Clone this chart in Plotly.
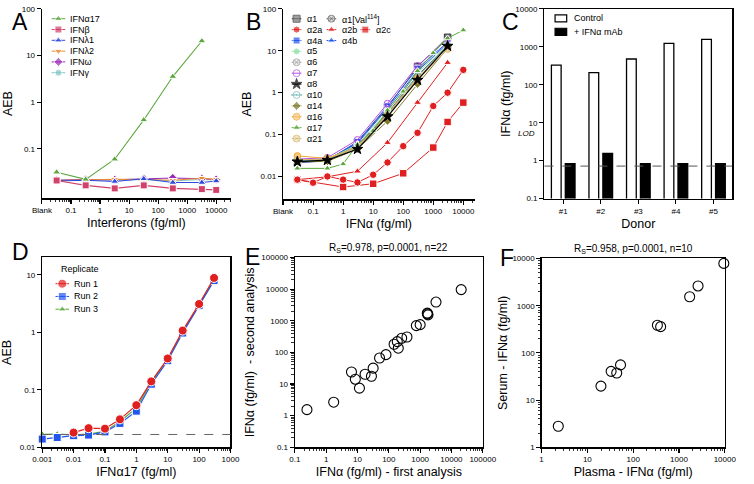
import plotly.graph_objects as go

W, H = 754, 484
FONT = "Liberation Sans, Arial, sans-serif"
TICK = 8
TITLE = 12.5
LEG = 9

# ---------------- data ----------------
# Panel A
A_X = [0.032, 0.32, 3.2, 32, 320, 3200, 10000]
A_X17 = [0.032, 0.32, 3.2, 32, 320, 3200]
A_IFNA17 = [0.0316, 0.0222, 0.060, 0.417, 3.55, 20.5]
A_IFNB = [0.021, 0.0165, 0.0142, 0.0165, 0.0142, 0.0137, 0.0132]
A_IFNL1 = [0.0205, 0.0212, 0.0200, 0.0228, 0.0190, 0.0190, 0.0205]
A_IFNL2 = [0.0210, 0.0218, 0.0222, 0.0220, 0.0212, 0.0235, 0.0222]
A_IFNW = [0.0212, 0.0220, 0.0218, 0.0230, 0.0238, 0.0228, 0.0220]
A_IFNG = [0.0215, 0.0220, 0.0212, 0.0222, 0.0205, 0.0220, 0.0218]
A_LABELS = ["IFNα17", "IFNβ", "IFNλ1", "IFNλ2", "IFNω", "IFNγ"]
A_XTICKVALS = [0.01, 0.1, 1, 10, 100, 1000, 10000]
A_XTICKTEXT = ["Blank", "0.1", "1", "10", "100", "1000", "10000"]
A_YTICKVALS = [0.1, 1, 10, 100]
A_YTICKTEXT = ["0.1", "1", "10", "100"]

# Panel B
B_X6 = [0.03, 0.3, 3, 30, 300, 3000]
B_A1 = [0.022, 0.025, 0.065, 0.45, 4.2, 21]
B_A1V = [0.024, 0.026, 0.055, 0.32, 2.6, 13]
B_A4A = [0.021, 0.024, 0.068, 0.48, 3.8, 16]
B_A4B = [0.023, 0.025, 0.062, 0.42, 3.3, 15]
B_A5 = [0.025, 0.026, 0.057, 0.36, 3.0, 14]
B_A6 = [0.024, 0.025, 0.052, 0.30, 2.5, 12]
B_A7 = [0.026, 0.028, 0.075, 0.55, 4.4, 19]
B_A8 = [0.0225, 0.0245, 0.045, 0.27, 2.0, 13]
B_A10 = [0.024, 0.025, 0.050, 0.30, 2.4, 13]
B_A14 = [0.022, 0.023, 0.045, 0.21, 1.6, 11.5]
B_A16 = [0.031, 0.027, 0.050, 0.30, 2.2, 12]
B_A21 = [0.025, 0.026, 0.050, 0.28, 2.0, 11]
B_X17 = [0.03, 0.3, 1, 3, 10, 30, 100, 300, 1000, 3000, 10000]
B_A17 = [0.0156, 0.0156, 0.0198, 0.058, 0.124, 0.38, 1.07, 3.3, 8.85, 20, 31]
B_X2A = [0.03, 0.1, 0.3, 1, 3, 10, 30, 100, 300, 1000, 3000, 10000]
B_A2A = [0.0084, 0.0071, 0.0100, 0.0084, 0.0072, 0.0110, 0.0216, 0.053, 0.11, 0.48, 1.0, 3.5]
B_X2B = [0.03, 0.3, 3, 30, 300, 3000]
B_A2B = [0.0084, 0.0098, 0.0133, 0.064, 0.58, 5.2]
B_X2C = [0.03, 1, 10, 100, 1000, 3000, 10000]
B_A2C = [0.0084, 0.0056, 0.0067, 0.0119, 0.049, 0.20, 0.58]
B_XTICKVALS = [0.01, 0.1, 1, 10, 100, 1000, 10000]
B_XTICKTEXT = ["Blank", "0.1", "1", "10", "100", "1000", "10000"]
B_YTICKVALS = [0.01, 0.1, 1, 10, 100]
B_YTICKTEXT = ["0.01", "0.1", "1", "10", "100"]

# Panel C
C_DONORS = ["#1", "#2", "#3", "#4", "#5"]
C_CONTROL = [329, 208, 479, 1242, 1577]
C_MAB = [0.83, 1.55, 0.83, 0.83, 0.83]
C_LOD = 0.72
C_YTICKVALS = [0.1, 1, 10, 100, 1000, 10000]
C_YTICKTEXT = ["0.1", "1", "10", "100", "1000", "10000"]

# Panel D
D_X = [0.001, 0.003, 0.01, 0.03, 0.1, 0.3, 1, 3, 10, 30, 100, 300]
D_RUN1_X = [0.01, 0.03, 0.1, 0.3, 1, 3, 10, 30, 100, 300]
D_RUN1 = [0.018, 0.0215, 0.0211, 0.0306, 0.054, 0.14, 0.35, 1.07, 3.1, 8.8]
D_RUN2 = [0.0139, 0.0148, 0.0159, 0.0163, 0.0185, 0.026, 0.0425, 0.125, 0.32, 0.97, 2.9, 7.9]
D_RUN3 = [0.0168, 0.0170, 0.0165, 0.0170, 0.0190, 0.028, 0.048, 0.135, 0.34, 1.02, 3.0, 8.3]
D_CUTOFF = 0.0167
D_XTICKVALS = [0.001, 0.01, 0.1, 1, 10, 100, 1000]
D_XTICKTEXT = ["0.001", "0.01", "0.1", "1", "10", "100", "1000"]
D_YTICKVALS = [0.01, 0.1, 1, 10]
D_YTICKTEXT = ["0.01", "0.1", "1", "10"]

# Panel E
E_FIRST = [0.242, 1.73, 6.4, 8.5, 11.5, 17.4, 27.8, 31.5, 50.5, 81, 147, 186, 200,
           257, 379, 755, 1000, 1690, 1780, 1720, 3210, 20460]
E_SECOND = [1.55, 2.67, 24, 14.2, 7.4, 20.4, 17.6, 31.8, 66.5, 85, 181, 219, 136,
            280, 307, 703, 755, 1742, 1540, 1650, 3900, 9660]
E_TICKVALS = [0.1, 1, 10, 100, 1000, 10000, 100000]
E_TICKTEXT = ["0.1", "1", "10", "100", "1000", "10000", "100000"]
E_TITLE = "R<sub>S</sub>=0.978, p=0.0001, n=22"

# Panel F
F_PLASMA = [2.32, 19.8, 33, 43.8, 53, 338, 398, 1710, 2606, 9520]
F_SERUM = [2.79, 19.8, 40.6, 37.5, 55.7, 385, 360, 1545, 2618, 7870]
F_TICKVALS = [1, 10, 100, 1000, 10000]
F_TICKTEXT = ["1", "10", "100", "1000", "10000"]
F_TITLE = "R<sub>S</sub>=0.958, p=0.0001, n=10"

# ---------------- styles ----------------
A_STY = {
    "IFNα17": dict(color="#5aa83c", symbol="triangle-up", fill="#5aa83c", line="white"),
    "IFNβ": dict(color="#d2416a", symbol="square", fill="#d2416a", line="white"),
    "IFNλ1": dict(color="#2f49e0", symbol="triangle-up", fill="#2f49e0", line="white"),
    "IFNλ2": dict(color="#ea8a2e", symbol="triangle-down", fill="#ea8a2e", line="white"),
    "IFNω": dict(color="#9a2ab8", symbol="diamond", fill="#9a2ab8", line="white"),
    "IFNγ": dict(color="#82c7c3", symbol="circle", fill="#82c7c3", line="white"),
}
B_STY = {
    "α1": dict(color="#555555", symbol="square", fill="#777777", line="#333333"),
    "α1[Val<sup>114</sup>]": dict(color="#666666", symbol="circle-x", fill="#cccccc", line="#555555"),
    "α2a": dict(color="#e02020", symbol="circle", fill="#e02020", line="white"),
    "α2b": dict(color="#e02020", symbol="triangle-up", fill="#e02020", line="white"),
    "α2c": dict(color="#e02020", symbol="square", fill="#e02020", line="white"),
    "α4a": dict(color="#2255ee", symbol="square", fill="#2255ee", line="white"),
    "α4b": dict(color="#2255ee", symbol="triangle-up", fill="#2255ee", line="white"),
    "α5": dict(color="#8fe0a8", symbol="circle", fill="#8fe0a8", line="white"),
    "α6": dict(color="#aaaaaa", symbol="circle-x", fill="#e4e4e4", line="#999999"),
    "α7": dict(color="#b54fe0", symbol="circle-open", fill="#b54fe0", line="#b54fe0"),
    "α8": dict(color="#000000", symbol="star", fill="#000000", line="#000000"),
    "α10": dict(color="#6fb8b5", symbol="circle-open-dot", fill="#6fb8b5", line="#6fb8b5"),
    "α14": dict(color="#7d7a2a", symbol="diamond", fill="#7d7a2a", line="white"),
    "α16": dict(color="#f2a535", symbol="circle", fill="#f7c877", line="#f2a535"),
    "α17": dict(color="#5aa83c", symbol="triangle-up", fill="#5aa83c", line="white"),
    "α21": dict(color="#d6b56a", symbol="circle-x", fill="#efe0b8", line="#d6b56a"),
}
D_STY = {
    "Run 1": dict(color="#e02020", symbol="circle", fill="#e02020", line="white", size=9),
    "Run 2": dict(color="#2255ee", symbol="square", fill="#2255ee", line="white", size=8),
    "Run 3": dict(color="#5aa83c", symbol="triangle-up", fill="#5aa83c", line="white", size=7),
}

fig = go.Figure()


def series(x, y, sty, xa, ya, size=7, lw=1.1):
    fig.add_trace(go.Scatter(
        x=x, y=y, mode="lines+markers", xaxis=xa, yaxis=ya, showlegend=False,
        cliponaxis=False,
        line=dict(color=sty["color"], width=lw),
        marker=dict(symbol=sty["symbol"], size=sty.get("size", size), color=sty["fill"],
                    line=dict(color=sty["line"], width=1))))


# Panel A
A_VALUES = [(A_X17, A_IFNA17), (A_X, A_IFNB), (A_X, A_IFNL1), (A_X, A_IFNL2), (A_X, A_IFNW), (A_X, A_IFNG)]
for lab, (xx, yy) in reversed(list(zip(A_LABELS, A_VALUES))):
    series(xx, yy, A_STY[lab], "x", "y", size=7)

# Panel B
B_MAIN = [("α1", B_A1), ("α1[Val<sup>114</sup>]", B_A1V), ("α4a", B_A4A), ("α4b", B_A4B),
          ("α5", B_A5), ("α6", B_A6), ("α7", B_A7), ("α10", B_A10), ("α14", B_A14),
          ("α16", B_A16), ("α21", B_A21)]
for lab, yy in B_MAIN:
    series(B_X6, yy, B_STY[lab], "x2", "y2", size=6.5, lw=1)
series(B_X17, B_A17, B_STY["α17"], "x2", "y2", size=6.5, lw=1)
series(B_X6, B_A8, B_STY["α8"], "x2", "y2", size=8, lw=1.2)
series(B_X2C, B_A2C, B_STY["α2c"], "x2", "y2", size=7.5, lw=1)
series(B_X2B, B_A2B, B_STY["α2b"], "x2", "y2", size=7, lw=1)
series(B_X2A, B_A2A, B_STY["α2a"], "x2", "y2", size=7.5, lw=1)

# Panel C
fig.add_trace(go.Bar(x=C_DONORS, y=C_CONTROL, xaxis="x3", yaxis="y3", showlegend=False,
                     marker=dict(color="white", line=dict(color="black", width=1.3))))
fig.add_trace(go.Bar(x=C_DONORS, y=C_MAB, xaxis="x3", yaxis="y3", showlegend=False,
                     marker=dict(color="black", line=dict(color="black", width=1.3))))

# Panel D
series(D_X, D_RUN3, D_STY["Run 3"], "x4", "y4", lw=1.2)
series(D_X, D_RUN2, D_STY["Run 2"], "x4", "y4", lw=1.2)
series(D_RUN1_X, D_RUN1, D_STY["Run 1"], "x4", "y4", lw=1.2)

# Panel E, F
for xx, yy, xa, ya in [(E_FIRST, E_SECOND, "x5", "y5"), (F_PLASMA, F_SERUM, "x6", "y6")]:
    fig.add_trace(go.Scatter(x=xx, y=yy, mode="markers", xaxis=xa, yaxis=ya, showlegend=False,
                             cliponaxis=False,
                             marker=dict(symbol="circle-open", size=10, color="black",
                                         line=dict(width=1.1, color="black"))))


# ---------------- manual legends (pixel overlay) ----------------
def key(px, py, sty, size=7, half=7):
    fig.add_trace(go.Scatter(
        x=[px - half, px, px + half], y=[py, py, py], mode="lines+markers",
        xaxis="x7", yaxis="y7", showlegend=False, cliponaxis=False, hoverinfo="skip",
        line=dict(color=sty["color"], width=1),
        marker=dict(symbol=sty["symbol"], size=[0, sty.get("size", size), 0], color=sty["fill"],
                    line=dict(color=sty["line"], width=1))))


annotations = []


def text(px, py, s, size=LEG, anchor="left", **kw):
    annotations.append(dict(x=px / W, y=1 - py / H, xref="paper", yref="paper", text=s,
                            showarrow=False, xanchor=anchor, yanchor="middle",
                            font=dict(size=size, color="black", family=FONT), **kw))


# A legend
for i, lab in enumerate(A_LABELS):
    yy = 15 + i * 11
    key(50, yy, A_STY[lab], size=7)
    text(60, yy, lab)

# B legend
B_GRID = [["α1", "α1[Val<sup>114</sup>]"], ["α2a", "α2b", "α2c"], ["α4a", "α4b"],
          ["α5"], ["α6"], ["α7"], ["α8"], ["α10"], ["α14"], ["α16"], ["α17"], ["α21"]]
B_COLX = [296, 332, 367]
for r, row in enumerate(B_GRID):
    yy = 15 + r * 11.1
    for c, lab in enumerate(row):
        key(B_COLX[c], yy, B_STY[lab], size=7 if lab != "α8" else 8, half=5)
        text(B_COLX[c] + 9, yy, lab)

# D legend
text(51, 270, "Replicate")
for i, lab in enumerate(["Run 1", "Run 2", "Run 3"]):
    yy = 285 + i * 13
    key(54, yy, D_STY[lab], half=7)
    text(64, yy, lab)

# C legend
shapes = []
for i, (lab, fc) in enumerate([("Control", "white"), ("+ IFNα mAb", "black")]):
    yy = 14.7 + i * 13.6
    shapes.append(dict(type="rect", xref="paper", yref="paper", x0=563 / W, x1=575 / W,
                       y0=1 - (yy - 3.6) / H, y1=1 - (yy + 3.6) / H,
                       line=dict(color="black", width=1.2), fillcolor=fc))
    text(580, yy, lab)

# reference lines
shapes.append(dict(type="line", xref="x3 domain", yref="y3", x0=0, x1=1, y0=C_LOD, y1=C_LOD,
                   line=dict(color="#555555", width=1, dash="dash")))
shapes.append(dict(type="line", xref="x4 domain", yref="y4", x0=0, x1=1, y0=D_CUTOFF, y1=D_CUTOFF,
                   line=dict(color="#666666", width=1, dash="dash")))
annotations.append(dict(x=0, y=C_LOD, xref="x3 domain", yref="y3", text="<i>LOD</i>",
                        showarrow=False, xanchor="right", yanchor="middle", xshift=-7,
                        font=dict(size=8, color="black", family=FONT)))

# panel letters
for lab, px, py in [("A", 0, 3), ("B", 242, 3), ("C", 506, 3), ("D", 0, 237), ("E", 241, 242), ("F", 504, 244)]:
    annotations.append(dict(x=px / W, y=1 - py / H, xref="paper", yref="paper", text=lab,
                            showarrow=False, xanchor="left", yanchor="top",
                            font=dict(size=23, color="black", family=FONT)))

# E/F titles
for t, xa, ya in [(E_TITLE, "x5", "y5"), (F_TITLE, "x6", "y6")]:
    annotations.append(dict(x=0.5, y=1, xref=xa + " domain", yref=ya + " domain", text=t,
                            showarrow=False, xanchor="center", yanchor="bottom", yshift=1,
                            font=dict(size=10, color="black", family=FONT)))


# ---------------- axes ----------------
def px_dom(a, b, total):
    return [a / total, b / total]


def ydom(top, bottom):
    return [1 - bottom / H, 1 - top / H]


def axis(domain, rng, anchor, title, tv=None, tt=None, typ="log", mirror=False, minor=False,
         standoff=4):
    d = dict(domain=domain, range=rng, type=typ, anchor=anchor, showline=True, linecolor="black",
             linewidth=1.3, ticks="outside", ticklen=4, tickwidth=1.1, tickcolor="black",
             showgrid=False, zeroline=False, mirror=mirror,
             tickfont=dict(size=TICK, color="black", family=FONT),
             title=dict(text=title, font=dict(size=TITLE, color="black", family=FONT), standoff=standoff))
    if tv is not None:
        d.update(tickmode="array", tickvals=tv, ticktext=tt)
    if minor:
        d["minor"] = dict(ticks="outside", ticklen=2.5, tickwidth=0.8, tickcolor="black",
                          dtick="D1", showgrid=False)
    return d


layout = dict(
    width=W, height=H, margin=dict(l=0, r=0, t=0, b=0),
    paper_bgcolor="white", plot_bgcolor="rgba(0,0,0,0)",
    font=dict(family=FONT, color="black"),
    showlegend=False, barmode="group", bargap=0.26, bargroupgap=0.3,
    annotations=annotations, shapes=shapes,
    xaxis=axis(px_dom(33, 228, W), [-2, 4.5], "y", "Interferons (fg/ml)", A_XTICKVALS, A_XTICKTEXT, minor=True),
    yaxis=axis(ydom(5, 198), [-2.06, 2], "x", "AEB", A_YTICKVALS, A_YTICKTEXT, standoff=6),
    xaxis2=axis(px_dom(282, 480, W), [-2.0, 4.38], "y2", "IFNα (fg/ml)", B_XTICKVALS, B_XTICKTEXT, minor=True),
    yaxis2=axis(ydom(5, 199), [-2.545, 2], "x2", "AEB", B_YTICKVALS, B_YTICKTEXT, standoff=6),
    xaxis3=axis(px_dom(552, 746, W), [-0.5, 4.5], "y3", "Donor", typ="category", mirror=True),
    yaxis3=axis(ydom(5, 198.3), [-1, 4], "x3", "IFNα (fg/ml)", C_YTICKVALS, C_YTICKTEXT, mirror=True, standoff=2),
    xaxis4=axis(px_dom(33.3, 227.7, W), [-3, 3], "y4", "IFNα17 (fg/ml)", D_XTICKVALS, D_XTICKTEXT, mirror=True, minor=True),
    yaxis4=axis(ydom(258.3, 451.7), [-2, 1.3], "x4", "AEB", D_YTICKVALS, D_YTICKTEXT, mirror=True, standoff=6),
    xaxis5=axis(px_dom(294.3, 488.3, W), [-1, 5], "y5", "IFNα (fg/ml) - first analysis", E_TICKVALS, E_TICKTEXT, mirror=True, minor=True),
    yaxis5=axis(ydom(258.3, 451.7), [-1, 5], "x5", "IFNα (fg/ml)  - second analysis", E_TICKVALS, E_TICKTEXT, mirror=True, minor=True),
    xaxis6=axis(px_dom(549, 738.3, W), [0, 4], "y6", "Plasma - IFNα (fg/ml)", F_TICKVALS, F_TICKTEXT, mirror=True, minor=True),
    yaxis6=axis(ydom(259.3, 451.7), [0, 4], "x6", "Serum - IFNα (fg/ml)", F_TICKVALS, F_TICKTEXT, mirror=True, minor=True, standoff=2),
    xaxis7=dict(domain=[0, 1], range=[0, W], visible=False, anchor="y7", fixedrange=True),
    yaxis7=dict(domain=[0, 1], range=[H, 0], visible=False, anchor="x7", fixedrange=True),
)
fig.update_layout(**layout)
fig.write_html("out.html", config={"displayModeBar": False, "staticPlot": True},
               post_script="document.body.style.margin='0';document.body.style.overflow='hidden';")
